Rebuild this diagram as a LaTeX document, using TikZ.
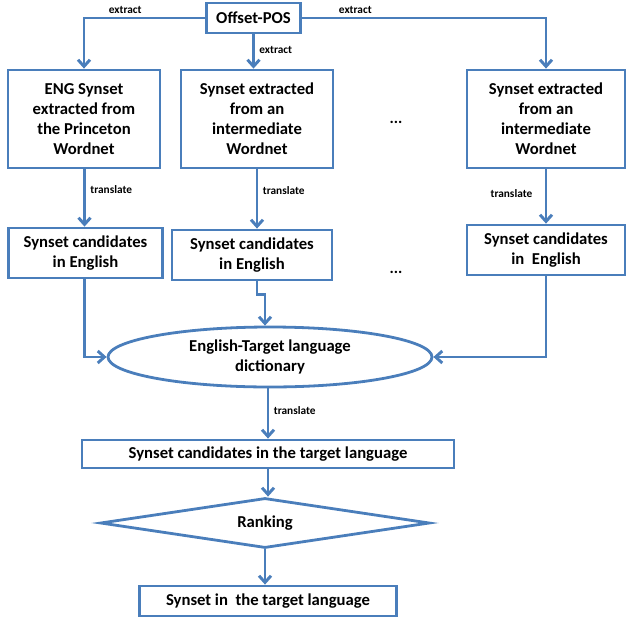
\documentclass[tikz,border=0pt]{standalone}
\usepackage{fontspec}
\setmainfont{Carlito}
\usetikzlibrary{arrows.meta,shapes.geometric}
\definecolor{lineblue}{HTML}{4A7EBB}
\begin{document}
\begin{tikzpicture}[x=0.75pt,y=-0.75pt,>={Straight Barb[length=5pt,width=9pt]},
    every node/.style={font=\bfseries},
    box/.style={draw=lineblue,line width=2.1pt,align=center,inner sep=0pt,font=\bfseries\fontsize{12.5}{15}\selectfont},
    lbl/.style={font=\bfseries\fontsize{8.5}{10}\selectfont},
    link/.style={draw=lineblue,line width=2.2pt,->}]
  \useasboundingbox (0,0) rectangle (628,618);
  \node[box,minimum width=70pt,minimum height=22.5pt] (pos) at (253.5,18) {Offset-POS};
  \node[box,minimum width=114pt,minimum height=73.5pt] (s1) at (84,119) {ENG Synset\\extracted from\\the Princeton\\Wordnet};
  \node[box,minimum width=114pt,minimum height=73.5pt] (s2) at (257,119) {Synset extracted\\from an\\intermediate\\Wordnet};
  \node[box,minimum width=118.5pt,minimum height=73.5pt] (s3) at (546,119) {Synset extracted\\from an\\intermediate\\Wordnet};
  \node[font=\bfseries\large] (d1) at (396,122) {...};
  \node[box,minimum width=116pt,minimum height=37.5pt] (c1) at (85.5,253) {Synset candidates\\in English};
  \node[box,minimum width=120pt,minimum height=37.5pt] (c2) at (252,255) {Synset candidates\\in English};
  \node[box,minimum width=118.5pt,minimum height=37.5pt] (c3) at (546,250) {Synset candidates\\in\ \ English};
  \node[font=\bfseries\large] (d2) at (396,272) {...};
  \node[ellipse,draw=lineblue,line width=2.1pt,minimum width=243pt,minimum height=45pt,align=center,inner sep=0pt,font=\bfseries\fontsize{12.5}{15}\selectfont] (dict) at (270,357) {English-Target language\\dictionary};
  \node[box,minimum width=279pt,minimum height=21pt] (tgt) at (268,454) {Synset candidates in the target language};
  \node[diamond,aspect=6.6,draw=lineblue,line width=2.1pt,minimum width=247pt,minimum height=37.5pt,inner sep=0pt,font=\bfseries\fontsize{12.5}{15}\selectfont] (rank) at (265,523) {Ranking};
  \node[box,minimum width=193pt,minimum height=22.5pt] (res) at (268,601) {Synset in\ \ the target language};

  \draw[link] (pos.west) -| node[lbl,pos=0.33,above=-1pt] {extract} (s1.north);
  \draw[link] (pos.east) -| node[lbl,pos=0.11,above=-1pt] {extract} (s3.north);
  \draw[link] (pos.south) -- node[lbl,right,pos=0.45] {extract} (pos.south|-s2.north);
  \draw[link] (s1.south-|c1.north) ++(-1,0) coordinate (t1) -- node[lbl,right,pos=0.35] {translate} (t1|-c1.north);
  \draw[link] (s2.south) -- node[lbl,right,pos=0.35] {translate} (s2.south|-c2.north);
  \draw[link] (s3.south) -- node[lbl,right=-2pt,pos=0.45,xshift=-44pt] {translate} (s3.south|-c3.north);
  \draw[link] (c1.south-|t1) |- (dict.west);
  \draw[link] (c3.south) |- (dict.east);
  \draw[link] (c2.south-|s2.south) -- ++(0,13) -| (265,0|-dict.north);
  \draw[link] (dict.south-|tgt.north) -- node[lbl,right,pos=0.45] {translate} (tgt.north);
  \draw[link] (tgt.south) -- (rank.north-|tgt.south);
  \draw[link] (rank.south) -- (res.north-|rank.south);
\end{tikzpicture}
\end{document}
